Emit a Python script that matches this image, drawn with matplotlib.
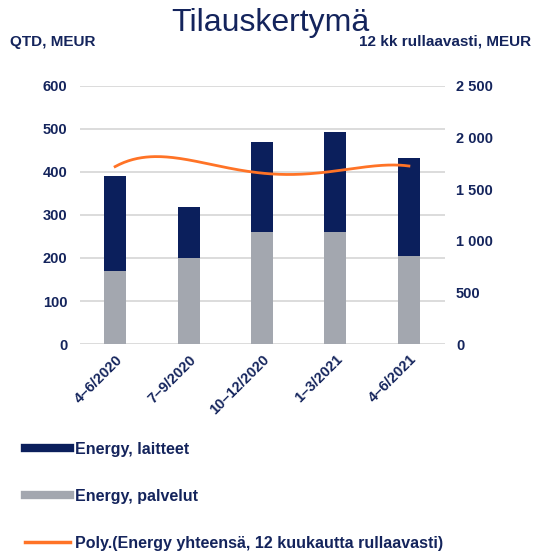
import numpy as np
from matplotlib import pyplot as plt
from matplotlib.lines import Line2D

quarters = ["4\u20136/2020", "7\u20139/2020", "10\u201312/2020", "1\u20133/2021", "4\u20136/2021"]
palvelut = [170, 200, 260, 260, 205]
laitteet = [220, 118, 210, 233, 227]
rolling_12m = [1718, 1783, 1655, 1676, 1724]

navy = "#0b1f5c"
grey = "#a3a7af"
orange = "#ff7326"
txt = "#14245c"

plt.rcParams['font.family'] = ['Liberation Sans', 'DejaVu Sans']

fig = plt.figure(figsize=(5.36, 5.54), dpi=100)
ax = fig.add_axes([0.149, 0.379, 0.681, 0.466])
ax2 = ax.twinx()

x = np.arange(len(quarters))
ax.bar(x, palvelut, width=0.3, color=grey, zorder=3)
ax.bar(x, laitteet, width=0.3, bottom=palvelut, color=navy, zorder=3)

# polynomial trendline through the rolling values
coef = np.polyfit(x, rolling_12m, 4)
xs = np.linspace(x[0], x[-1], 200)
ax2.plot(xs, np.polyval(coef, xs), color=orange, lw=2)

ax.set_ylim(0, 600)
ax.set_yticks(range(0, 601, 100))
ax2.set_ylim(0, 2500)
ax2.set_yticks(range(0, 2501, 500))
ax2.set_yticklabels(["0", "500", "1 000", "1 500", "2 000", "2 500"])
ax.set_xlim(-0.48, 4.49)
ax.set_xticks(x)
ax.set_xticklabels(quarters, rotation=45, ha="right", rotation_mode="anchor")

ax.grid(axis="y", color="#d9d9d9", lw=1.3, zorder=0)
for a in (ax, ax2):
    for s in a.spines.values():
        s.set_visible(False)
    a.tick_params(length=0, labelsize=10.5, labelcolor=txt)
    for lab in a.get_yticklabels() + a.get_xticklabels():
        lab.set_fontweight("bold")
ax.tick_params(axis="y", pad=9)
ax2.tick_params(axis="y", pad=8)
ax.tick_params(axis="x", pad=6)

fig.text(0.505, 0.958, "Tilauskertymä", ha="center", va="center", fontsize=23, color=txt)
fig.text(0.018, 0.925, "QTD, MEUR", ha="left", va="center", fontsize=11, fontweight="bold", color=txt)
fig.text(0.99, 0.925, "12 kk rullaavasti, MEUR", ha="right", va="center", fontsize=11, fontweight="bold", color=txt)

handles = [Line2D([], [], color=navy, lw=6),
           Line2D([], [], color=grey, lw=6),
           Line2D([], [], color=orange, lw=2.5)]
labels = ["Energy, laitteet", "Energy, palvelut",
          "Poly.(Energy yhteensä, 12 kuukautta rullaavasti)"]
leg = fig.legend(handles, labels, loc="upper left", bbox_to_anchor=(0.02, 0.228),
                 frameon=False, handlelength=2.8, handletextpad=0.3,
                 labelspacing=2.0, fontsize=11.5)
for t in leg.get_texts():
    t.set_color(txt)
    t.set_fontweight("bold")

plt.savefig("out.png", facecolor="white")
